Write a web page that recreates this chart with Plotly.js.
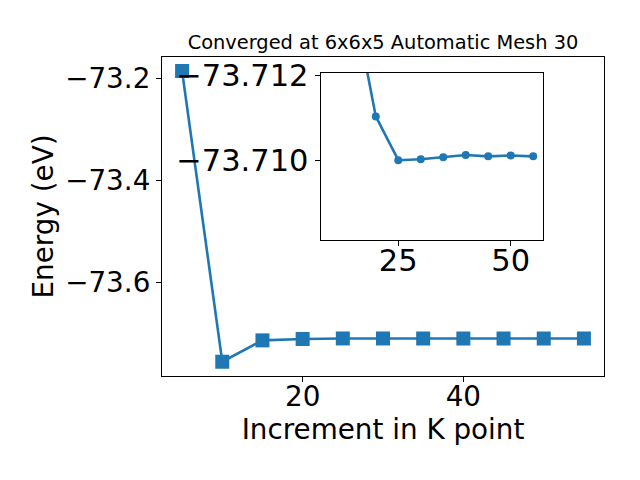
<!DOCTYPE html>
<html>
<head>
<meta charset="utf-8">
<script src="https://cdn.plot.ly/plotly-3.0.1.min.js"></script>
<style>html,body{margin:0;padding:0;background:#fff;}#chart{width:640px;height:480px;}</style>
</head>
<body>
<div id="chart"></div>
<script>
const kpoints = [5, 10, 15, 20, 25, 30, 35, 40, 45, 50, 55];
const energy = [-73.1851, -73.7557, -73.7138, -73.71104, -73.71001, -73.71003, -73.71008, -73.71013, -73.71010, -73.71012, -73.71010];
const insetK = kpoints.slice(1);
const insetE = energy.slice(1);
const titleText = 'Converged at 6x6x5 Automatic Mesh 30';
const xLabel = 'Increment in K point';
const yLabel = 'Energy (eV)';

const blue = '#1f77b4';
const font = 'DejaVu Sans, sans-serif';

const traces = [
  {x: kpoints, y: energy, type: 'scatter', mode: 'lines+markers', xaxis: 'x', yaxis: 'y',
   line: {color: blue, width: 2.6}, marker: {symbol: 'square', size: 14, color: blue}},
  {x: insetK, y: insetE, type: 'scatter', mode: 'lines+markers', xaxis: 'x2', yaxis: 'y2',
   line: {color: blue, width: 2.6}, marker: {symbol: 'circle', size: 8, color: blue}}
];

const axCommon = {showgrid: false, zeroline: false, showline: true, linecolor: '#000', linewidth: 1.1,
  mirror: true, ticks: 'outside', ticklen: 5, tickwidth: 1.1, tickcolor: '#000'};

const layout = {
  width: 640, height: 480,
  paper_bgcolor: '#fff', plot_bgcolor: '#fff',
  margin: {l: 162, r: 36, t: 57, b: 104, autoexpand: false},
  showlegend: false,
  font: {family: font, color: '#000'},
  title: {text: titleText, font: {size: 19.4, family: font, color: '#000'},
          x: 0.5, xref: 'paper', xanchor: 'center', y: 1, yref: 'paper', yanchor: 'bottom', pad: {b: 8}},
  xaxis: Object.assign({}, axCommon, {domain: [0, 1], range: [2.5, 57.5], dtick: 20, tick0: 0,
     tickfont: {size: 27.8, family: font}, automargin: false, ticklabelstandoff: -9,
     title: {text: xLabel, font: {size: 27.8, family: font}, standoff: 5}}),
  yaxis: Object.assign({}, axCommon, {domain: [0, 1], range: [-73.7837, -73.15765], dtick: 0.2, tick0: -73.2,
     tickformat: '.1f', tickfont: {size: 27.8, family: font}, automargin: false,
     title: {text: yLabel, font: {size: 27.8, family: font}, standoff: 3}}),
  xaxis2: Object.assign({}, axCommon, {domain: [0.359, 0.8627], anchor: 'y2', range: [7.75, 57.25], dtick: 25, tick0: 0,
     tickfont: {size: 30.5, family: font}, automargin: false, ticklabelstandoff: -12}),
  yaxis2: Object.assign({}, axCommon, {domain: [0.4263, 0.9508], anchor: 'x2', range: [-73.70813, -73.71207],
     dtick: 0.002, tick0: -73.712, tickformat: '.3f', tickfont: {size: 30.5, family: font}, automargin: false})
};

Plotly.newPlot('chart', traces, layout, {staticPlot: true, displayModeBar: false});
</script>
</body>
</html>
